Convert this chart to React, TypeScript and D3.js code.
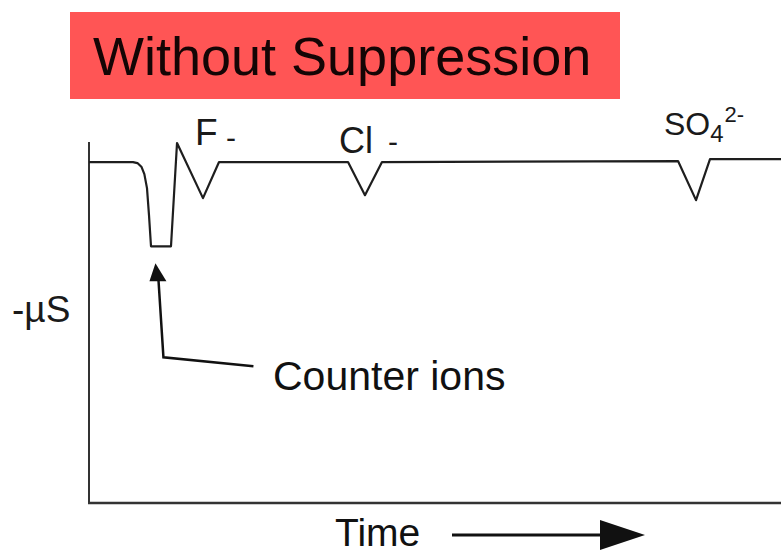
import React, { useRef, useEffect } from 'react';
import * as d3 from 'd3';

// chromatogram trace, time in arbitrary units, signal in -µS (baseline = 0)
const traceTime = [0, 6.36, 7.0, 7.6, 8.0, 8.38, 8.67, 8.96, 11.85, 12.72, 16.47, 18.79, 37.43, 39.88, 42.34, 85.12, 87.72, 89.74, 100];
const traceSignal = [0, 0, -0.05, -0.25, -0.6, -1.3, -2.65, -4.2, -4.2, 0.95, -1.8, 0, 0, -1.65, 0, 0.05, -1.9, 0.15, 0.15];

const titleText = 'Without Suppression';
const yLabel = '-µS';
const xLabel = 'Time';
const counterIonLabel = 'Counter ions';

export default function App() {
  const svgRef = useRef<SVGSVGElement | null>(null);

  useEffect(() => {
    if (!svgRef.current) return;
    const width = 781;
    const height = 555;
    const font = '"Liberation Sans", Arial, Helvetica, sans-serif';

    const svg = d3.select(svgRef.current);
    svg.selectAll('*').remove();
    svg.attr('viewBox', `0 0 ${width} ${height}`);

    const x = d3.scaleLinear().domain([0, 100]).range([89, 781]);
    const y = d3.scaleLinear().domain([1, -17]).range([142, 503]);

    // title banner
    svg.append('rect')
      .attr('x', 70).attr('y', 12)
      .attr('width', 550).attr('height', 87)
      .attr('fill', '#ff5555');
    svg.append('text')
      .attr('x', 93).attr('y', 75)
      .attr('font-family', font)
      .attr('font-size', 54)
      .attr('fill', '#140505')
      .text(titleText);

    // axes
    svg.append('line')
      .attr('x1', x(0)).attr('x2', x(0))
      .attr('y1', y(1)).attr('y2', y(-17))
      .attr('stroke', '#333').attr('stroke-width', 2);
    svg.append('line')
      .attr('x1', x(0) - 1).attr('x2', x(100))
      .attr('y1', y(-17)).attr('y2', y(-17))
      .attr('stroke', '#333').attr('stroke-width', 2.5);

    // trace
    const pts: [number, number][] = traceTime.map((t, i) => [t, traceSignal[i]]);
    const line = d3.line<[number, number]>()
      .x(d => x(d[0]))
      .y(d => y(d[1]))
      .curve(d3.curveLinear);
    svg.append('path')
      .datum(pts)
      .attr('fill', 'none')
      .attr('stroke', '#1e1e1e')
      .attr('stroke-width', 2.2)
      .attr('stroke-linejoin', 'round')
      .attr('d', line);

    // peak labels
    const lab = svg.append('g').attr('font-family', font).attr('fill', '#1a1a1a');
    lab.append('text').attr('x', 195).attr('y', 145).attr('font-size', 37).text('F');
    lab.append('text').attr('x', 226).attr('y', 148).attr('font-size', 30).text('-');
    lab.append('text').attr('x', 339).attr('y', 153).attr('font-size', 36).text('Cl');
    lab.append('text').attr('x', 388).attr('y', 152).attr('font-size', 30).text('-');
    const so4 = lab.append('text').attr('x', 664).attr('y', 135).attr('font-size', 32);
    so4.append('tspan').text('SO');
    so4.append('tspan').attr('font-size', 24).attr('dy', 7).text('4');
    so4.append('tspan').attr('font-size', 22).attr('dy', -20).attr('dx', 1).text('2-');

    // axis labels
    svg.append('text')
      .attr('x', 12).attr('y', 322)
      .attr('font-family', font).attr('font-size', 37)
      .attr('fill', '#1a1a1a')
      .text(yLabel);
    svg.append('text')
      .attr('x', 335).attr('y', 546)
      .attr('font-family', font).attr('font-size', 39)
      .attr('fill', '#111')
      .text(xLabel);
    svg.append('line')
      .attr('x1', 452).attr('x2', 604)
      .attr('y1', 535).attr('y2', 535)
      .attr('stroke', '#111').attr('stroke-width', 3);
    svg.append('path')
      .attr('d', 'M600,520 L645,535 L600,550 Z')
      .attr('fill', '#111');

    // counter ion annotation, anchored under the counter-ion dip
    const tipX = x(9.6);
    const tipY = y(-4.2) + 17;
    svg.append('path')
      .attr('d', `M${tipX},${tipY} L${tipX + 11},${tipY + 18} L${tipX - 6},${tipY + 18} Z`)
      .attr('fill', '#111');
    svg.append('path')
      .attr('d', `M${tipX + 3},${tipY + 16} L${tipX + 8},${tipY + 94} L${tipX + 98},${tipY + 103}`)
      .attr('fill', 'none')
      .attr('stroke', '#111')
      .attr('stroke-width', 2.5);
    svg.append('text')
      .attr('x', 273).attr('y', 390)
      .attr('font-family', font).attr('font-size', 41)
      .attr('fill', '#111')
      .text(counterIonLabel);
  }, []);

  return (
    <div style={{ position: 'fixed', left: 0, top: 0, width: 781, height: 555, background: '#fff' }}>
      <svg ref={svgRef} width={781} height={555} style={{ display: 'block' }} />
    </div>
  );
}
